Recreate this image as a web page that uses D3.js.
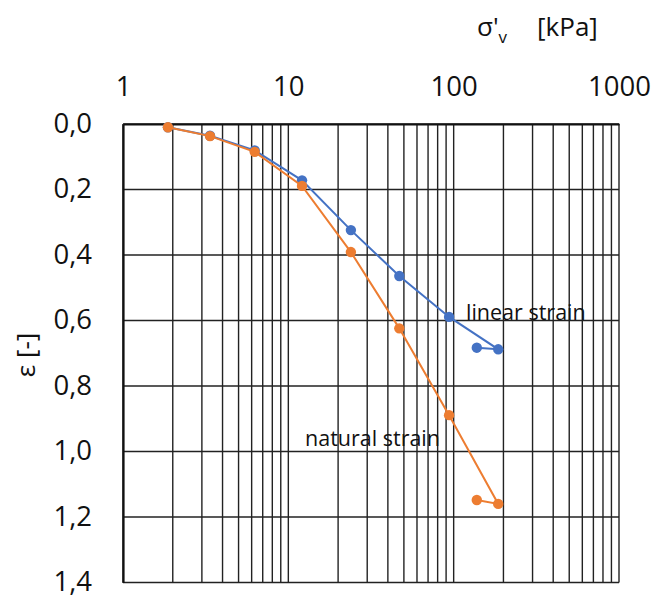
<!DOCTYPE html>
<html>
<head>
<meta charset="utf-8">
<script src="https://cdn.jsdelivr.net/npm/d3@7"></script>
<style>
  html, body { margin: 0; padding: 0; background: #fff; }
  svg text { font-family: "Open Sans", "Noto Sans", sans-serif; fill: #111; }
</style>
</head>
<body>
<svg id="chart" width="651" height="597"></svg>
<script>
// Effective vertical stress [kPa] for each load step (last step is an unload)
const stress = [1.87, 3.36, 6.26, 12.1, 23.9, 46.9, 93.8, 186, 138];
// Strain for each step
const linearStrain  = [0.010, 0.036, 0.081, 0.172, 0.324, 0.464, 0.589, 0.688, 0.683];
const naturalStrain = [0.010, 0.037, 0.085, 0.189, 0.391, 0.624, 0.889, 1.160, 1.148];
// Axis tick labels
const xTicks = [1, 10, 100, 1000];
const yTicks = [0, 0.2, 0.4, 0.6, 0.8, 1.0, 1.2, 1.4];

const svg = d3.select("#chart");
const plotLeft = 123, plotRight = 619, plotTop = 124, plotBottom = 582.5;

const x = d3.scaleLog().domain([1, 1000]).range([plotLeft, plotRight]);
const y = d3.scaleLinear().domain([0, 1.4]).range([plotTop, plotBottom]);

// Grid: every 1..9 per decade vertically, every 0.2 horizontally
const minor = [];
for (let d = 1; d < 1000; d *= 10) for (let k = 1; k <= 9; k++) minor.push(d * k);
minor.push(1000);

const grid = svg.append("g").attr("stroke", "#222").attr("stroke-width", 1.4);
grid.selectAll("line.v").data(minor).join("line")
  .attr("x1", d => x(d)).attr("x2", d => x(d))
  .attr("y1", plotTop).attr("y2", plotBottom);
grid.selectAll("line.h").data(yTicks).join("line")
  .attr("x1", plotLeft).attr("x2", plotRight)
  .attr("y1", d => y(d)).attr("y2", d => y(d));

// Axes on top and left
const xAxis = svg.append("g").attr("transform", `translate(0,${plotTop})`)
  .call(d3.axisTop(x).tickValues(xTicks).tickFormat(d3.format("d")).tickSize(0).tickPadding(28));
const yAxis = svg.append("g").attr("transform", `translate(${plotLeft},0)`)
  .call(d3.axisLeft(y).tickValues(yTicks).tickFormat(d => d3.format(".1f")(d).replace(".", ",")).tickSize(0).tickPadding(31));
[xAxis, yAxis].forEach(a => {
  a.select(".domain").attr("stroke", "#111").attr("stroke-width", 2.2);
  a.selectAll("text").attr("font-size", 27.5).attr("fill", "#111")
    .attr("font-family", "'Open Sans', sans-serif");
});
yAxis.selectAll("text").attr("dy", "0.3em");

// Series
const line = d3.line().x(d => x(d[0])).y(d => y(d[1]));
const series = [
  { values: linearStrain, color: "#4472C4" },
  { values: naturalStrain, color: "#ED7D31" }
];
series.forEach(s => {
  const pts = stress.map((v, i) => [v, s.values[i]]);
  const g = svg.append("g");
  g.append("path").datum(pts).attr("d", line)
    .attr("fill", "none").attr("stroke", s.color).attr("stroke-width", 2);
  g.selectAll("circle").data(pts).join("circle")
    .attr("cx", d => x(d[0])).attr("cy", d => y(d[1])).attr("r", 5.2)
    .attr("fill", s.color);
});

// Series labels
svg.append("text").attr("x", 466).attr("y", 320).attr("font-size", 21.5).text("linear strain");
svg.append("text").attr("x", 305).attr("y", 446).attr("font-size", 21.5).text("natural strain");

// Axis titles
const xt = svg.append("text").attr("x", 477).attr("y", 36).attr("font-size", 26);
xt.append("tspan").text("σ'");
xt.append("tspan").attr("font-size", 17).attr("dy", 7).text("v");
xt.append("tspan").attr("dy", -7).attr("dx", 30).text("[kPa]");

svg.append("text")
  .attr("transform", "translate(35,355) rotate(-90)")
  .attr("text-anchor", "middle").attr("font-size", 26)
  .text("ε [-]");
</script>
</body>
</html>
